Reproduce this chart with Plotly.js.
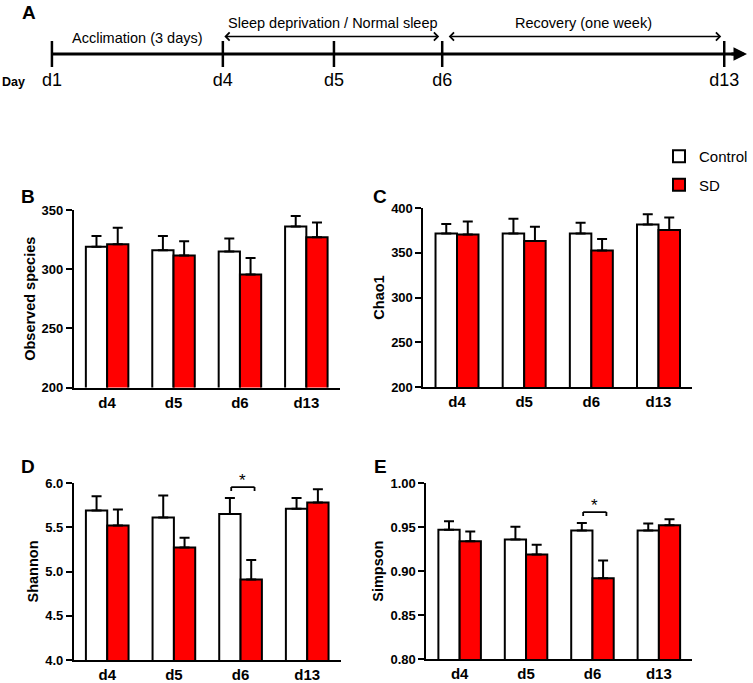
<!DOCTYPE html>
<html>
<head>
<meta charset="utf-8">
<script src="https://cdn.plot.ly/plotly-3.0.1.min.js"></script>
<style>
  html, body { margin: 0; padding: 0; background: #ffffff; }
  #chart { width: 753px; height: 683px; }
</style>
</head>
<body>
<div id="chart"></div>
<script>
// ---------------- DATA ----------------
const categories = ['d4', 'd5', 'd6', 'd13'];
const seriesNames = ['Control', 'SD'];

// B: Observed species (mean, +SEM)
const obsControl    = [319, 316, 315, 336];
const obsControlErr = [9, 12, 11, 9];
const obsSD         = [321, 311.5, 295.5, 327];
const obsSDErr      = [14, 12, 14, 12.5];

// C: Chao1
const chaoControl    = [371.5, 371.5, 371.5, 381.5];
const chaoControlErr = [10.5, 16.5, 12, 11.5];
const chaoSD         = [370.5, 363, 352.5, 375.5];
const chaoSDErr      = [14.5, 16, 13, 14];

// D: Shannon
const shanControl    = [5.69, 5.61, 5.65, 5.71];
const shanControlErr = [0.16, 0.25, 0.18, 0.12];
const shanSD         = [5.52, 5.27, 4.91, 5.78];
const shanSDErr      = [0.18, 0.11, 0.22, 0.15];

// E: Simpson
const simpControl    = [0.947, 0.936, 0.946, 0.946];
const simpControlErr = [0.0095, 0.0145, 0.0085, 0.008];
const simpSD         = [0.934, 0.919, 0.892, 0.952];
const simpSDErr      = [0.011, 0.011, 0.020, 0.007];

// significance marks (category, label)
const shanSigCategories = ['d6'];
const simpSigCategories = ['d6'];
const sigLabel = '*';

// A: timeline (schematic positions along the time line)
const timelineDays = ['d1', 'd4', 'd5', 'd6', 'd13'];
const timelinePos  = [0, 3, 4.95, 6.85, 11.8];
const periodLabels = ['Acclimation (3 days)', 'Sleep deprivation / Normal sleep', 'Recovery (one week)'];
const periodStart  = ['d1', 'd4', 'd6'];
const periodEnd    = ['d4', 'd6', 'd13'];
const periodArrow  = [false, true, true];

// ---------------- STYLE / LAYOUT HELPERS ----------------
const W = 753, H = 683;
const FONT = 'Liberation Sans, Arial, Helvetica, sans-serif';
const px = v => v / W;            // pixel column -> paper x
const py = v => 1 - v / H;        // pixel row -> paper y
const colors = { Control: '#ffffff', SD: '#ff0000' };

const panels = [
  { key: 'B', xa: 'x',  ya: 'y',  title: 'Observed species', range: [200, 350], dtick: 50, fmt: 'd',
    ctrl: obsControl, ctrlErr: obsControlErr, sd: obsSD, sdErr: obsSDErr,
    xdom: [74, 340], ydom: [210, 387.5], letter: [28.5, 196], sig: [] },
  { key: 'C', xa: 'x2', ya: 'y2', title: 'Chao1', range: [200, 400], dtick: 50, fmt: 'd',
    ctrl: chaoControl, ctrlErr: chaoControlErr, sd: chaoSD, sdErr: chaoSDErr,
    xdom: [424, 693], ydom: [208, 387], letter: [381, 196], sig: [] },
  { key: 'D', xa: 'x3', ya: 'y3', title: 'Shannon', range: [4, 6], dtick: 0.5, fmt: '.1f',
    ctrl: shanControl, ctrlErr: shanControlErr, sd: shanSD, sdErr: shanSDErr,
    xdom: [74, 341], ydom: [483, 660], letter: [28.5, 466], sig: shanSigCategories },
  { key: 'E', xa: 'x4', ya: 'y4', title: 'Simpson', range: [0.8, 1.0], dtick: 0.05, fmt: '.2f',
    ctrl: simpControl, ctrlErr: simpControlErr, sd: simpSD, sdErr: simpSDErr,
    xdom: [427, 693], ydom: [483, 659.3], letter: [381, 466], sig: simpSigCategories }
];

const traces = [];
const shapes = [];
const annotations = [];
const layout = {
  width: W, height: H,
  margin: { l: 0, r: 0, t: 0, b: 0, pad: 0 },
  paper_bgcolor: '#ffffff', plot_bgcolor: 'rgba(0,0,0,0)',
  font: { family: FONT, color: '#000000' },
  barmode: 'group', bargap: 0.36, bargroupgap: 0,
  showlegend: true,
  legend: {
    x: px(660), y: py(140), xanchor: 'left', yanchor: 'top',
    font: { family: FONT, size: 15, color: '#000' },
    bgcolor: 'rgba(0,0,0,0)', traceorder: 'grouped', tracegroupgap: 6
  },
  shapes: shapes, annotations: annotations
};

panels.forEach((p, i) => {
  const axNum = p.xa === 'x' ? '' : p.xa.slice(1);
  const groups = [
    { name: seriesNames[0], y: p.ctrl, e: p.ctrlErr },
    { name: seriesNames[1], y: p.sd, e: p.sdErr }
  ];
  groups.forEach(g => {
    traces.push({
      type: 'bar', x: categories, y: g.y, name: g.name,
      xaxis: p.xa, yaxis: p.ya,
      legendgroup: g.name, showlegend: i === 0,
      marker: { color: colors[g.name], line: { color: '#000', width: 2 } },
      error_y: { type: 'data', symmetric: false, array: g.e, arrayminus: g.e.map(() => 0),
                 color: '#000', thickness: 2, width: 5 },
      hoverinfo: 'skip'
    });
  });

  layout['xaxis' + axNum] = {
    domain: [px(p.xdom[0]), px(p.xdom[1])], anchor: p.ya,
    type: 'category', range: [-0.5, 3.5], categoryorder: 'array', categoryarray: categories,
    showline: true, linecolor: '#000', linewidth: 2, ticks: '', showgrid: false, zeroline: false,
    tickfont: { family: FONT, size: 15, weight: 'bold', color: '#000' }, fixedrange: true
  };
  layout['yaxis' + axNum] = {
    domain: [py(p.ydom[1]), py(p.ydom[0])], anchor: p.xa,
    range: p.range, dtick: p.dtick, tick0: p.range[0], tickformat: p.fmt,
    showline: true, linecolor: '#000', linewidth: 2, ticks: 'outside', ticklen: 6, tickwidth: 2, tickcolor: '#000',
    showgrid: false, zeroline: false,
    tickfont: { family: FONT, size: 13, weight: 'bold', color: '#000' },
    title: { text: p.title, font: { family: FONT, size: 14.5, weight: 'bold', color: '#000' }, standoff: 3 },
    fixedrange: true
  };

  annotations.push({
    xref: 'paper', yref: 'paper', x: px(p.letter[0]), y: py(p.letter[1]),
    text: p.key, showarrow: false, xanchor: 'center', yanchor: 'middle',
    font: { family: FONT, size: 19, weight: 'bold', color: '#000' }
  });

  // significance brackets
  const span = p.range[1] - p.range[0];
  const unitPerPx = span / (p.ydom[1] - p.ydom[0]);
  p.sig.forEach(cat => {
    const ci = categories.indexOf(cat);
    const top = Math.max(p.ctrl[ci] + p.ctrlErr[ci], p.sd[ci] + p.sdErr[ci]);
    const yb = top + 11 * unitPerPx;
    const yEnd = yb - 4 * unitPerPx;
    const x0 = ci - 0.14, x1 = ci + 0.21;
    const line = { color: '#000', width: 1.8 };
    shapes.push({ type: 'line', xref: p.xa, yref: p.ya, x0: x0, x1: x1, y0: yb, y1: yb, line });
    shapes.push({ type: 'line', xref: p.xa, yref: p.ya, x0: x0, x1: x0, y0: yb, y1: yEnd, line });
    shapes.push({ type: 'line', xref: p.xa, yref: p.ya, x0: x1, x1: x1, y0: yb, y1: yEnd, line });
    annotations.push({
      xref: p.xa, yref: p.ya, x: (x0 + x1) / 2, y: yb, text: sigLabel, showarrow: false,
      yanchor: 'bottom', yshift: -5, font: { family: FONT, size: 17, color: '#000' }
    });
  });
});

// ---------------- PANEL A: timeline ----------------
const xPxPerUnit = 57.05, xOrigin = 52;  // pixel scale of the schematic axis
layout.xaxis5 = {
  domain: [0, 1], anchor: 'y5',
  range: [-xOrigin / xPxPerUnit, (W - xOrigin) / xPxPerUnit],
  visible: false, fixedrange: true
};
layout.yaxis5 = {
  domain: [py(100), 1], anchor: 'x5', range: [100, 0], visible: false, fixedrange: true
};
const lineY = 54, tickTop = 41, tickBot = 67, arrowY = 36.5, labelY = 81;
const arrowTip = 12.2;
const posOf = d => timelinePos[timelineDays.indexOf(d)];

// main time line
traces.push({
  type: 'scatter', mode: 'lines', x: [timelinePos[0], arrowTip - 0.1], y: [lineY, lineY],
  xaxis: 'x5', yaxis: 'y5', line: { color: '#000', width: 3 }, showlegend: false, hoverinfo: 'skip'
});
// ticks at each day
traces.push({
  type: 'scatter', mode: 'lines',
  x: timelinePos.flatMap(p => [p, p, null]),
  y: timelinePos.flatMap(() => [tickTop, tickBot, null]),
  xaxis: 'x5', yaxis: 'y5', line: { color: '#000', width: 2.5 }, showlegend: false, hoverinfo: 'skip'
});
// day labels
traces.push({
  type: 'scatter', mode: 'text', x: timelinePos, y: timelinePos.map(() => labelY), text: timelineDays,
  textposition: 'middle center', textfont: { family: FONT, size: 18, color: '#000' },
  xaxis: 'x5', yaxis: 'y5', showlegend: false, hoverinfo: 'skip', cliponaxis: false
});
// arrow head of the main line
annotations.push({
  xref: 'x5', yref: 'y5', axref: 'x5', ayref: 'y5',
  x: arrowTip, y: lineY, ax: arrowTip - 0.3, ay: lineY, text: '',
  showarrow: true, arrowhead: 2, arrowsize: 0.9, arrowwidth: 3, arrowcolor: '#000'
});
// periods
periodLabels.forEach((lab, i) => {
  const a = posOf(periodStart[i]), b = posOf(periodEnd[i]);
  annotations.push({
    xref: 'x5', yref: 'y5', x: (a + b) / 2, y: periodArrow[i] ? 22.5 : 38, text: lab,
    showarrow: false, xanchor: 'center', yanchor: 'middle',
    font: { family: FONT, size: 14.5, color: '#000' }
  });
  if (periodArrow[i]) {
    annotations.push({
      xref: 'x5', yref: 'y5', axref: 'x5', ayref: 'y5',
      x: b, y: arrowY, ax: a, ay: arrowY, text: '',
      showarrow: true, arrowside: 'end+start', arrowhead: 4, arrowsize: 1.2, arrowwidth: 1.3,
      arrowcolor: '#000', standoff: 3, startstandoff: i === 2 ? 5 : 0
    });
  }
});
annotations.push({
  xref: 'paper', yref: 'paper', x: px(29), y: py(12), text: 'A', showarrow: false,
  xanchor: 'center', yanchor: 'middle', font: { family: FONT, size: 19, weight: 'bold', color: '#000' }
});
annotations.push({
  xref: 'paper', yref: 'paper', x: px(14), y: py(labelY + 1), text: 'Day', showarrow: false,
  xanchor: 'center', yanchor: 'middle', font: { family: FONT, size: 12.5, weight: 'bold', color: '#000' }
});

Plotly.newPlot('chart', traces, layout, { staticPlot: true, displayModeBar: false });
</script>
</body>
</html>
